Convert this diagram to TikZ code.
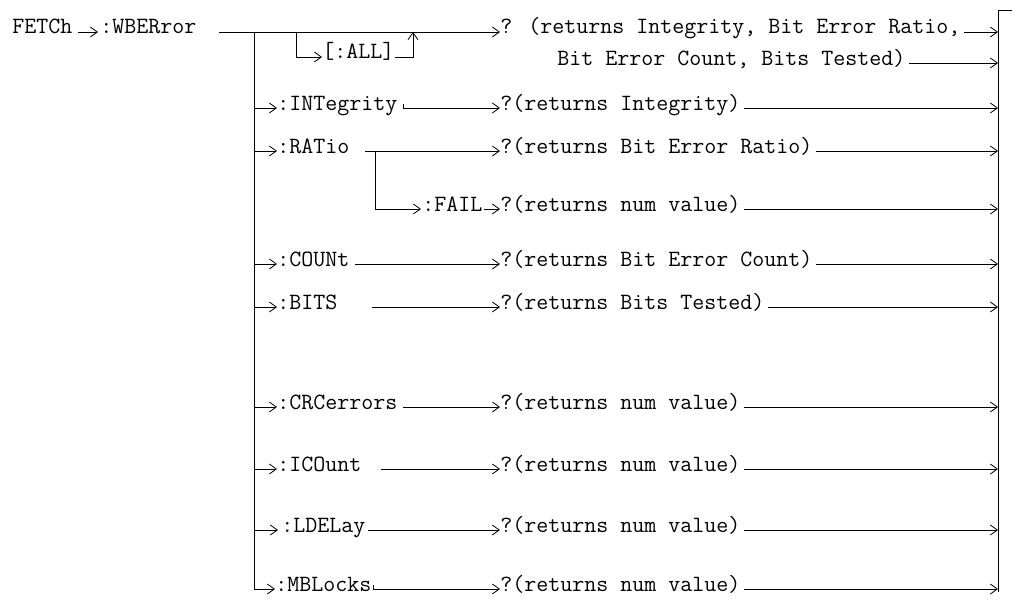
\documentclass[tikz,border=0pt]{standalone}
\usepackage{fontspec}
\usetikzlibrary{positioning,arrows.meta,calc}

\begin{document}
\begin{tikzpicture}[
    x=1pt, y=-1pt,
    line width=0.8pt,
    >={Straight Barb[length=7pt,width=10pt]},
    every node/.style={font=\ttfamily\fontsize{23.3}{26}\selectfont, inner sep=0pt, anchor=west, text height=10pt, text depth=6pt}
]
\useasboundingbox (0,0) rectangle (1016,602);

% === Entry ===
\node (fetch) at (12,32) {FETCh};
\node (wber) at (100,32) {:WBERror};
\draw[->] ([xshift=5pt]fetch.east) -- ([xshift=-2pt]wber.west);

% === Trunk and closing bar ===
\coordinate (trunk) at (254,32);
\coordinate (trunkend) at (254,589);
\coordinate (bar) at (998,10);
\coordinate (barend) at (998,592);
\coordinate (exit) at (1012,10);
\draw (trunk) -- (trunkend);
\draw (exit) -- (bar) -- (barend);

% === Query (all values) ===
\node (qall) at (500,32) {? (returns Integrity, Bit Error Ratio,};
\node (qall2) at (557,63) {Bit Error Count, Bits Tested)};
\draw[->] ([xshift=22pt]wber.east) -- (qall.west);
\draw[->] ([xshift=3pt]qall.east) -- (qall.east -| bar);
\draw[->] ([xshift=3pt]qall2.east) -- (qall2.east -| bar);

% optional [:ALL]
\coordinate (allsplit) at (296,32);
\coordinate (alljoin) at (413,32);
\node (all) at (322,57) {[:ALL]};
\draw[->] (allsplit) |- (all.west);
\draw[->] (all.east) -| (alljoin);

% === :INTegrity ===
\node (integ) at (277,108) {:INTegrity};
\node (qinteg) at (500,108) {?(returns Integrity)};
\draw[->] (integ.west -| trunk) -- (integ.west);
\draw[->] ([xshift=6pt,yshift=4pt]integ.east) |- (qinteg.west);
\draw[->] ([xshift=3pt]qinteg.east) -- (qinteg.east -| bar);

% === :RATio ===
\node (ratio) at (277,151) {:RATio};
\node (qratio) at (500,151) {?(returns Bit Error Ratio)};
\draw[->] (ratio.west -| trunk) -- (ratio.west);
\draw[->] ([xshift=15pt]ratio.east) -- (qratio.west);
\draw[->] ([xshift=3pt]qratio.east) -- (qratio.east -| bar);

% :FAIL
\coordinate (failsplit) at (375,151);
\node (fail) at (422,209) {:FAIL};
\node (qfail) at (500,209) {?(returns num value)};
\draw[->] (failsplit) |- ([xshift=-1pt]fail.west);
\draw[->] ([xshift=1pt]fail.east) -- (qfail.west);
\draw[->] ([xshift=3pt]qfail.east) -- (qfail.east -| bar);

% === :COUNt ===
\node (count) at (277,264) {:COUNt};
\node (qcount) at (500,264) {?(returns Bit Error Count)};
\draw[->] (count.west -| trunk) -- (count.west);
\draw[->] ([xshift=5pt]count.east) -- (qcount.west);
\draw[->] ([xshift=3pt]qcount.east) -- (qcount.east -| bar);

% === :BITS ===
\node (bits) at (277,307) {:BITS};
\node (qbits) at (500,307) {?(returns Bits Tested)};
\draw[->] (bits.west -| trunk) -- (bits.west);
\draw[->] ([xshift=34pt]bits.east) -- (qbits.west);
\draw[->] ([xshift=3pt]qbits.east) -- (qbits.east -| bar);

% === :CRCerrors ===
\node (crc) at (277,407) {:CRCerrors};
\node (qcrc) at (500,407) {?(returns num value)};
\draw[->] (crc.west -| trunk) -- (crc.west);
\draw[->] ([xshift=5pt]crc.east) -- (qcrc.west);
\draw[->] ([xshift=3pt]qcrc.east) -- (qcrc.east -| bar);

% === :ICOunt ===
\node (icount) at (277,469) {:ICOunt};
\node (qicount) at (500,469) {?(returns num value)};
\draw[->] (icount.west -| trunk) -- (icount.west);
\draw[->] ([xshift=19pt]icount.east) -- (qicount.west);
\draw[->] ([xshift=3pt]qicount.east) -- (qicount.east -| bar);

% === :LDELay ===
\node (ldelay) at (281,530) {:LDELay};
\node (qldelay) at (500,530) {?(returns num value)};
\draw[->] (ldelay.west -| trunk) -- ([xshift=-3pt]ldelay.west);
\draw[->] ([xshift=2pt]ldelay.east) -- (qldelay.west);
\draw[->] ([xshift=3pt]qldelay.east) -- (qldelay.east -| bar);

% === :MBLocks ===
\node (mblocks) at (275,589) {:MBLocks};
\node (qmblocks) at (500,589) {?(returns num value)};
\draw[->] (mblocks.west -| trunk) -- (mblocks.west);
\draw[->] ([xshift=2pt,yshift=4pt]mblocks.east) |- (qmblocks.west);
\draw[->] ([xshift=3pt]qmblocks.east) -- (qmblocks.east -| bar);

\end{tikzpicture}
\end{document}
